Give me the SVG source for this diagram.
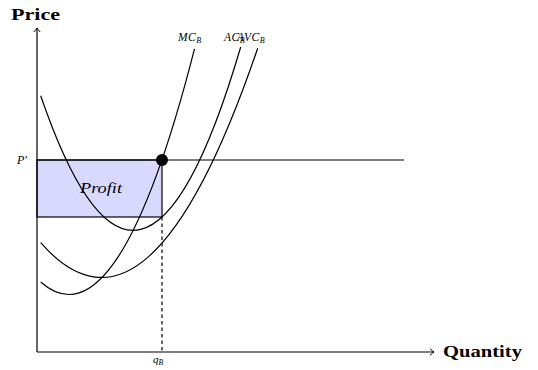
<svg xmlns="http://www.w3.org/2000/svg" width="538" height="370" viewBox="0 0 538 370">
<style>
.ln{fill:none;stroke:#000;stroke-width:1.2}
.math{font-family:"Liberation Serif",serif;font-style:italic;fill:#000}
.bold{font-family:"Liberation Serif",serif;font-weight:bold;fill:#000}
</style>
<defs>
<marker id="arr" viewBox="-5 -4 6 8" markerWidth="6" markerHeight="8" refX="0" refY="0" orient="auto" markerUnits="userSpaceOnUse">
<path d="M-4,-3.2 Q-1,-0.6 0,0 Q-1,0.6 -4,3.2" fill="none" stroke="#000" stroke-width="1"/>
</marker>
</defs>
<rect width="538" height="370" fill="#fff"/>
<g id="profit">
<rect x="37" y="160" width="125" height="57" fill="#d9d9ff" stroke="#000" stroke-width="1.2"/>
<text class="math" x="80" y="193" font-size="15" textLength="42" lengthAdjust="spacingAndGlyphs">Profit</text>
</g>
<g id="connectors">
<line class="ln" x1="37" y1="352" x2="37" y2="28" marker-end="url(#arr)"/>
<line class="ln" x1="37" y1="352" x2="434" y2="352" marker-end="url(#arr)"/>
<line class="ln" x1="37" y1="160" x2="404" y2="160"/>
<line class="ln" x1="162" y1="217" x2="162" y2="352" stroke-dasharray="3.5,3"/>
</g>
<g id="mc">
<path class="ln" d="M40.7,282 Q117.6,349.9 194.5,48.8"/>
<text class="math" x="178" y="40.5" font-size="11.5" letter-spacing="0.5">MC<tspan font-size="8" dy="2">B</tspan></text>
</g>
<g id="ac">
<path class="ln" d="M40.7,95.7 Q140.7,387.4 240.7,47"/>
<text class="math" x="224" y="40.5" font-size="11.5" letter-spacing="0.5">AC<tspan font-size="8" dy="2">B</tspan></text>
</g>
<g id="avc">
<path class="ln" d="M40.7,242.7 Q149.2,366.7 257.7,48.2"/>
<text class="math" x="237" y="40.5" font-size="11.5" letter-spacing="0.5">AVC<tspan font-size="8" dy="2">B</tspan></text>
</g>
<g id="point">
<circle cx="162" cy="160" r="6" fill="#000"/>
</g>
<g id="labels">
<text class="bold" x="11" y="20" font-size="16" textLength="49" lengthAdjust="spacingAndGlyphs">Price</text>
<text class="bold" x="443" y="357" font-size="16" textLength="79" lengthAdjust="spacingAndGlyphs">Quantity</text>
<text class="math" x="17" y="164" font-size="12">P′</text>
<text class="math" x="153" y="363" font-size="11">q<tspan font-size="7.5" dy="1.5">B</tspan></text>
</g>
</svg>
